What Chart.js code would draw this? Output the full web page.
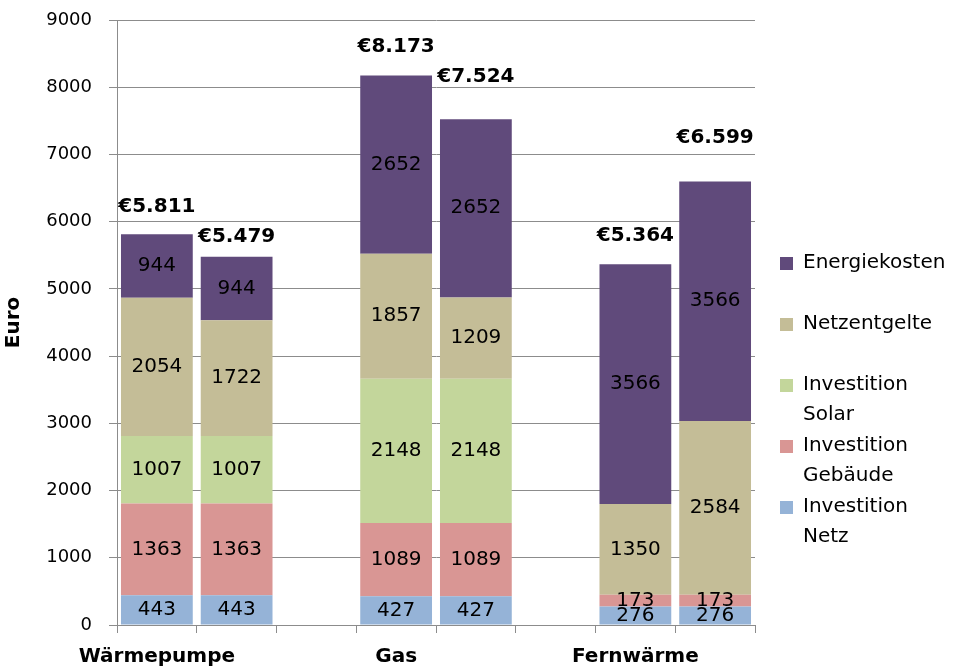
<!DOCTYPE html>
<html>
<head>
<meta charset="utf-8">
<script src="https://cdn.jsdelivr.net/npm/chart.js@4"></script>
<style>
  html, body { margin: 0; padding: 0; background: #fff; }
  canvas { display: block; }
</style>
</head>
<body>
<canvas id="myChart" width="953" height="668"></canvas>
<script>
// two bars per heating option, empty slots make the gaps between groups
var groupLabels = ['Wärmepumpe', '', '', 'Gas', '', '', 'Fernwärme', ''];
var investNetz = [443, 443, null, 427, 427, null, 276, 276];
var investGebaeude = [1363, 1363, null, 1089, 1089, null, 173, 173];
var investSolar = [1007, 1007, null, 2148, 2148, null, 0, 0];
var netzentgelte = [2054, 1722, null, 1857, 1209, null, 1350, 2584];
var energiekosten = [944, 944, null, 2652, 2652, null, 3566, 3566];
var totals = [5811, 5479, null, 8173, 7524, null, 5364, 6599];
var yMax = 9000;
var yStep = 1000;

// how far (px) each total label sits above its bar
var totalLift = [28, 20, 0, 29, 42, 0, 29, 44];

var FONT = 'DejaVu Sans';

function euro(v) {
    return '€' + String(v).replace(/\B(?=(\d{3})+(?!\d))/g, '.');
}

var segmentLabels = {
    id: 'segmentLabels',
    afterDatasetsDraw: function(chart) {
        var ctx = chart.ctx;
        ctx.save();
        ctx.font = '20px "' + FONT + '"';
        ctx.fillStyle = '#000';
        ctx.textAlign = 'center';
        ctx.textBaseline = 'middle';
        chart.data.datasets.forEach(function(ds, di) {
            var meta = chart.getDatasetMeta(di);
            meta.data.forEach(function(el, i) {
                var v = ds.data[i];
                if (!v) return;
                ctx.fillText(String(v), el.x, (el.y + el.base) / 2);
            });
        });
        // totals above the stacks
        ctx.font = 'bold 20px "' + FONT + '"';
        var top = chart.getDatasetMeta(chart.data.datasets.length - 1);
        totals.forEach(function(t, i) {
            if (t == null) return;
            var el = top.data[i];
            ctx.fillText(euro(t), el.x, el.y - totalLift[i]);
        });
        ctx.restore();
    }
};

var sideLegend = {
    id: 'sideLegend',
    afterDraw: function(chart) {
        var ctx = chart.ctx;
        var x = chart.chartArea.right + 25;
        var y = 263;
        ctx.save();
        ctx.font = '20px "' + FONT + '"';
        ctx.textBaseline = 'middle';
        ctx.textAlign = 'left';
        var list = chart.data.datasets.slice().reverse();
        list.forEach(function(ds) {
            ctx.fillStyle = ds.backgroundColor;
            ctx.fillRect(x, y - 6, 13, 13);
            ctx.fillStyle = '#000';
            ds.legendLines.forEach(function(line, k) {
                ctx.fillText(line, x + 23, y + k * 30);
            });
            y += 61;
        });
        ctx.restore();
    }
};

var ctx = document.getElementById('myChart').getContext('2d');
var myChart = new Chart(ctx, {
    type: 'bar',
    data: {
        labels: groupLabels,
        datasets: [{
            label: 'Investition Netz',
            legendLines: ['Investition', 'Netz'],
            data: investNetz,
            backgroundColor: '#95b3d7'
        }, {
            label: 'Investition Gebäude',
            legendLines: ['Investition', 'Gebäude'],
            data: investGebaeude,
            backgroundColor: '#d99694'
        }, {
            label: 'Investition Solar',
            legendLines: ['Investition', 'Solar'],
            data: investSolar,
            backgroundColor: '#c3d69b'
        }, {
            label: 'Netzentgelte',
            legendLines: ['Netzentgelte'],
            data: netzentgelte,
            backgroundColor: '#c4bd97'
        }, {
            label: 'Energiekosten',
            legendLines: ['Energiekosten'],
            data: energiekosten,
            backgroundColor: '#604a7b'
        }]
    },
    options: {
        responsive: false,
        animation: false,
        devicePixelRatio: 1,
        layout: {
            padding: { top: 20, right: 198, left: 0, bottom: 0 }
        },
        datasets: {
            bar: {
                barPercentage: 0.9,
                categoryPercentage: 1.0,
                borderWidth: 0
            }
        },
        plugins: {
            legend: { display: false },
            tooltip: { enabled: false }
        },
        scales: {
            x: {
                stacked: true,
                grid: {
                    offset: true,
                    drawOnChartArea: false,
                    tickLength: 8,
                    color: '#8c8c8c'
                },
                border: { color: '#8c8c8c' },
                ticks: {
                    color: '#000',
                    autoSkip: false,
                    maxRotation: 0,
                    padding: 12,
                    font: { family: FONT, size: 20, weight: 'bold' }
                },
                afterFit: function(scale) {
                    scale.height = 43;
                    scale.paddingLeft = 0;
                    scale.paddingRight = 0;
                }
            },
            y: {
                stacked: true,
                min: 0,
                max: yMax,
                grid: {
                    color: '#8c8c8c',
                    tickLength: 8
                },
                border: { color: '#8c8c8c' },
                ticks: {
                    stepSize: yStep,
                    color: '#000',
                    padding: 17,
                    font: { family: FONT, size: 18 },
                    callback: function(v) { return String(v); }
                },
                title: {
                    display: true,
                    text: 'Euro',
                    color: '#000',
                    padding: { top: 2, bottom: 0 },
                    font: { family: FONT, size: 20, weight: 'bold' }
                },
                afterFit: function(scale) {
                    scale.width = 117;
                    scale.paddingTop = 0;
                    scale.paddingBottom = 0;
                }
            }
        }
    },
    plugins: [segmentLabels, sideLegend]
});
</script>
</body>
</html>
